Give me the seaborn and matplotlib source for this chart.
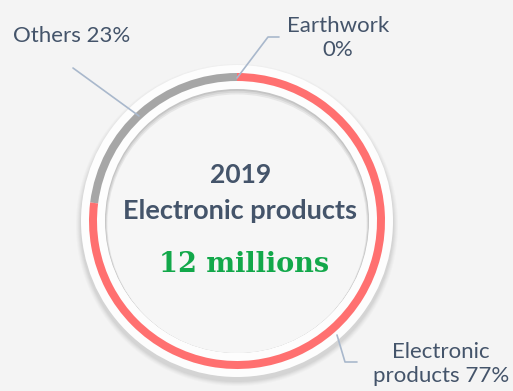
import matplotlib
matplotlib.use("Agg")
import matplotlib.pyplot as plt
from matplotlib.patches import Circle
import seaborn as sns

# Share of 2019 output by category
categories = ["Earthwork", "Others", "Electronic products"]
shares = [0, 23, 77]
label_texts = ["Earthwork\n0%", "Others 23%", "Electronic\nproducts 77%"]
year = "2019"
headline = "Electronic products"
total_text = "12 millions"

sns.set_theme(style="white")
plt.rcParams["font.family"] = ["Lato", "DejaVu Sans"]

palette = {"Earthwork": "#5b9bd5", "Others": "#a6a6a6", "Electronic products": "#ff7070"}
colors = [palette[c] for c in categories]
text_col = "#44546a"
line_col = "#a9b8cc"
bg = "#f4f4f4"

W, H = 513, 391
fig = plt.figure(figsize=(W / 100, H / 100), dpi=100, facecolor=bg)
ax = fig.add_axes([0, 0, 1, 1])
ax.set_facecolor(bg)

cx, cy = 237, H - 221
r_out, ring_w = 148, 8

# soft drop shadow under the outer halo, offset downward
for i, a in enumerate([0.03, 0.04, 0.05, 0.06, 0.07]):
    ax.add_patch(Circle((cx, cy - 4), 161 - i, color="#707070", alpha=a, lw=0, zorder=1))
ax.add_patch(Circle((cx, cy), 156, color="#fdfdfd", lw=0, zorder=2))

# donut ring
ax.pie(shares, colors=colors, startangle=90, counterclock=True,
       center=(cx, cy), radius=r_out, frame=True,
       wedgeprops=dict(width=ring_w, linewidth=0, zorder=3))

# inner disk with an inset shadow along its upper rim
rim = Circle((cx, cy), 132, color="#c4c4c4", lw=0, zorder=4)
ax.add_patch(rim)
for i, (dy, col) in enumerate([(-1.0, "#d6d6d6"), (-2.0, "#e6e6e6"), (-3.0, "#f6f6f6")]):
    p = Circle((cx, cy + dy), 132 - 0.8 * (i + 1), color=col, lw=0, zorder=5 + i)
    ax.add_patch(p)
    p.set_clip_path(rim)

# centre text
ax.text(241, H - 175, year, ha="center", va="center", fontsize=19,
        fontweight="bold", color=text_col, zorder=10)
ax.text(240, H - 211, headline, ha="center", va="center", fontsize=19.5,
        fontweight="bold", color=text_col, zorder=10)
ax.text(244, H - 264, total_text, ha="center", va="center", fontsize=19.5,
        fontweight="bold", color="#12a84a", family=["DejaVu Serif"], zorder=10)

# leader lines
ax.plot([73, 139], [H - 68, H - 116], color=line_col, lw=1.2, zorder=10)
ax.plot([237, 268, 279], [H - 78, H - 37, H - 37], color=line_col, lw=1.2, zorder=10)
ax.plot([337, 345, 357], [H - 335, H - 362, H - 362], color=line_col, lw=1.2, zorder=10)

# slice labels
ax.text(72, H - 36, label_texts[1], ha="center", va="center", fontsize=16,
        color=text_col, zorder=10)
ax.text(338, H - 38, label_texts[0], ha="center", va="center", fontsize=16,
        color=text_col, linespacing=1.3, zorder=10)
ax.text(441, H - 364, label_texts[2], ha="center", va="center", fontsize=16,
        color=text_col, linespacing=1.3, zorder=10)

ax.set_xlim(0, W)
ax.set_ylim(0, H)
ax.set_aspect("auto")
ax.axis("off")

fig.savefig("out.png", dpi=100, facecolor=bg)
